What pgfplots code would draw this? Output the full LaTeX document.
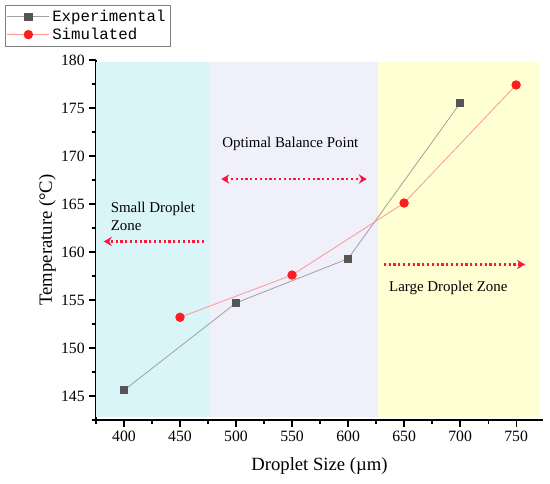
\documentclass[border=0pt]{standalone}
\usepackage{fontspec}
\setmainfont{Liberation Serif}
\setmonofont{Liberation Mono}
\usepackage{pgfplots}
\pgfplotsset{compat=1.18}
\usetikzlibrary{arrows.meta}
\definecolor{zcyan}{RGB}{218,245,248}
\definecolor{zlav}{RGB}{240,240,251}
\definecolor{zyel}{RGB}{255,255,212}
\definecolor{expc}{RGB}{85,85,85}
\definecolor{expl}{RGB}{160,160,160}
\definecolor{simc}{RGB}{255,30,30}
\definecolor{siml}{RGB}{255,150,150}
\definecolor{arrc}{RGB}{255,20,60}
\begin{document}
\begin{tikzpicture}
\useasboundingbox (-72pt,-47.25pt) rectangle (340.5pt,315pt);
\begin{axis}[
  at={(0,0)}, anchor=south west,
  scale only axis, width=335.25pt, height=270pt,
  xmin=375, xmax=774, ymin=142.5, ymax=180,
  axis x line*=bottom, axis y line*=left,
  axis line style={line width=0.9pt,-},
  tick align=outside,
  xtick={400,450,...,750}, minor xtick={375,425,...,775},
  ytick={145,150,...,180}, minor ytick={142.5,147.5,...,177.5},
  major tick length=5pt, minor tick length=3pt,
  every tick/.style={black, line width=0.9pt},
  xticklabel={\pgfmathprintnumber{\tick}},
  yticklabel={\pgfmathprintnumber{\tick}},
  tick label style={font=\rmfamily\fontsize{11.8pt}{13pt}\selectfont},
  /pgf/number format/assume math mode=true,
  xlabel={Droplet Size (µm)},
  ylabel={Temperature (°C)},
  xlabel style={yshift=-5pt},
  ylabel style={yshift=-3pt},
  label style={font=\fontsize{14pt}{16pt}\selectfont},
  legend style={at={(-0.204,1.153)}, anchor=north west, draw=gray,
    font=\ttfamily\fontsize{11.8pt}{13pt}\selectfont, inner sep=1.5pt,
    row sep=-0.5pt, legend cell align=left},
  legend image code/.code={\draw[#1] (0cm,0cm) -- (1.1cm,0cm) plot coordinates {(0.55cm,0cm)};},
]
\addplot[fill=zcyan, draw=none, forget plot] coordinates {(375,142.8) (477,142.8) (477,179.8) (375,179.8)} -- cycle;
\addplot[fill=zlav, draw=none, forget plot] coordinates {(477,142.8) (627,142.8) (627,179.8) (477,179.8)} -- cycle;
\addplot[fill=zyel, draw=none, forget plot] coordinates {(627,142.8) (770,142.8) (770,179.8) (627,179.8)} -- cycle;
\addplot[color=expl, line width=0.6pt, mark=square*, mark size=2.7pt,
  mark options={draw=expc, fill=expc}] coordinates {
  (400,145.6) (500,154.7) (600,159.3) (700,175.5)};
\addlegendentry{Experimental}
\addplot[color=siml, line width=0.6pt, mark=*, mark size=3.2pt,
  mark options={draw=simc, fill=simc}] coordinates {
  (450,153.2) (550,157.6) (650,165.1) (750,177.4)};
\addlegendentry{Simulated}
\node[font=\fontsize{11.2pt}{13pt}\selectfont] at (axis cs:548.5,171.3) {Optimal Balance Point};
\draw[arrc, dotted, line width=1.6pt, {Stealth[length=6pt,width=7pt]}-{Stealth[length=6pt,width=7pt]}] (axis cs:486.8,167.6) -- (axis cs:616.7,167.6);
\node[font=\fontsize{11.2pt}{13.5pt}\selectfont, align=left, anchor=west] at (axis cs:384,163.7) {Small Droplet\\Zone};
\draw[arrc, dotted, line width=1.6pt, -{Stealth[length=6pt,width=7pt]}] (axis cs:471.6,161.1) -- (axis cs:382,161.1);
\node[font=\fontsize{11.2pt}{13pt}\selectfont, anchor=west] at (axis cs:632.5,156.3) {Large Droplet Zone};
\draw[arrc, dotted, line width=1.6pt, -{Stealth[length=6pt,width=7pt]}] (axis cs:631.9,158.7) -- (axis cs:758,158.7);
\end{axis}
\end{tikzpicture}
\end{document}
